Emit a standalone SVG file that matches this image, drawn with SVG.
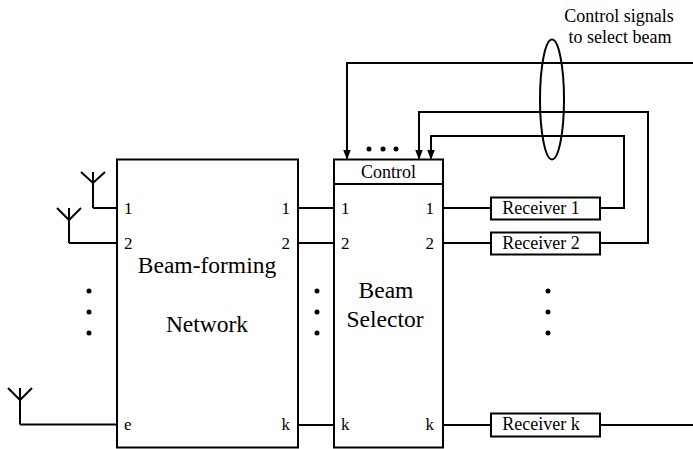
<svg xmlns="http://www.w3.org/2000/svg" width="693" height="449" viewBox="0 0 693 449">
<style>
.box{fill:#fff;stroke:#000;stroke-width:2}
.ln{fill:none;stroke:#000;stroke-width:2}
text{fill:#000;font-family:'Times New Roman',Times,'Liberation Serif','DejaVu Serif',serif}
.big{font-size:23.5px;text-anchor:middle}
.lbl{font-size:18px}
.port{font-size:17px}
.mid{text-anchor:middle}
.end{text-anchor:end}
</style>
<defs>
<marker id="arr" markerWidth="10" markerHeight="12" refX="9.5" refY="4.5" orient="auto" markerUnits="userSpaceOnUse" viewBox="0 0 12 9">
<path d="M0,0 L12,4.5 L0,9 Z" fill="#000"/>
</marker>
</defs>
<rect width="693" height="449" fill="#fff"/>
<g id="connectors">
<path class="ln" d="M93,208 H117"/>
<path class="ln" d="M69,243 H117"/>
<path class="ln" d="M20,424.5 H117"/>
<path class="ln" d="M298,208 H334"/>
<path class="ln" d="M298,243 H334"/>
<path class="ln" d="M298,425 H334"/>
<path class="ln" d="M443,208 H491"/>
<path class="ln" d="M443,243 H491"/>
<path class="ln" d="M443,425 H491"/>
<path class="ln" d="M600,425 H693"/>
<path class="ln" d="M693,63 H347 V158" marker-end="url(#arr)"/>
<path class="ln" d="M600,243 H648 V112 H419 V158" marker-end="url(#arr)"/>
<path class="ln" d="M600,208 H624 V136 H431 V158" marker-end="url(#arr)"/>
</g>
<g id="antenna1"><path class="ln" d="M93,172 V208 M81,172 L93,183 L105,172"/></g>
<g id="antenna2"><path class="ln" d="M69,208 V243 M57,208 L69,220 L81,208"/></g>
<g id="antennaE"><path class="ln" d="M20,388 V424.5 M8,388 L20,400 L32,388"/></g>
<g id="beamforming">
<rect class="box" x="117" y="159.5" width="181" height="288"/>
<text class="big" x="207" y="273">Beam-forming</text>
<text class="big" x="207" y="332">Network</text>
<text class="port" x="124" y="214">1</text>
<text class="port" x="124" y="249">2</text>
<text class="port" x="124" y="430">e</text>
<text class="port end" x="290" y="214">1</text>
<text class="port end" x="290" y="249">2</text>
<text class="port end" x="290" y="430">k</text>
</g>
<g id="selector">
<rect class="box" x="334" y="159.5" width="109" height="288"/>
<path class="ln" d="M334,184 H443"/>
<text class="lbl mid" x="388.5" y="178">Control</text>
<text class="big" x="386" y="298">Beam</text>
<text class="big" x="385" y="327">Selector</text>
<text class="port" x="341" y="214">1</text>
<text class="port" x="341" y="249">2</text>
<text class="port" x="341" y="430">k</text>
<text class="port end" x="434" y="214">1</text>
<text class="port end" x="434" y="249">2</text>
<text class="port end" x="434" y="430">k</text>
</g>
<g id="receiver1"><rect class="box" x="491" y="197.5" width="109" height="22"/><text class="lbl mid" x="541" y="214">Receiver 1</text></g>
<g id="receiver2"><rect class="box" x="491" y="232.5" width="109" height="22"/><text class="lbl mid" x="541" y="249">Receiver 2</text></g>
<g id="receiverk"><rect class="box" x="491" y="413.5" width="109" height="23"/><text class="lbl mid" x="541" y="430">Receiver k</text></g>
<g id="dots" fill="#000">
<circle cx="369" cy="149" r="2.5"/><circle cx="383" cy="149" r="2.5"/><circle cx="396" cy="149" r="2.5"/>
<circle cx="89" cy="291" r="2.5"/><circle cx="89" cy="312" r="2.5"/><circle cx="89" cy="333" r="2.5"/>
<circle cx="317" cy="291" r="2.5"/><circle cx="317" cy="312" r="2.5"/><circle cx="317" cy="333" r="2.5"/>
<circle cx="548" cy="291" r="2.5"/><circle cx="548" cy="312" r="2.5"/><circle cx="548" cy="333" r="2.5"/>
</g>
<g id="bundle">
<ellipse class="ln" cx="552" cy="99.5" rx="12" ry="60"/>
<text class="lbl mid" x="619" y="22">Control signals</text>
<text class="lbl mid" x="620" y="43">to select beam</text>
</g>
</svg>
